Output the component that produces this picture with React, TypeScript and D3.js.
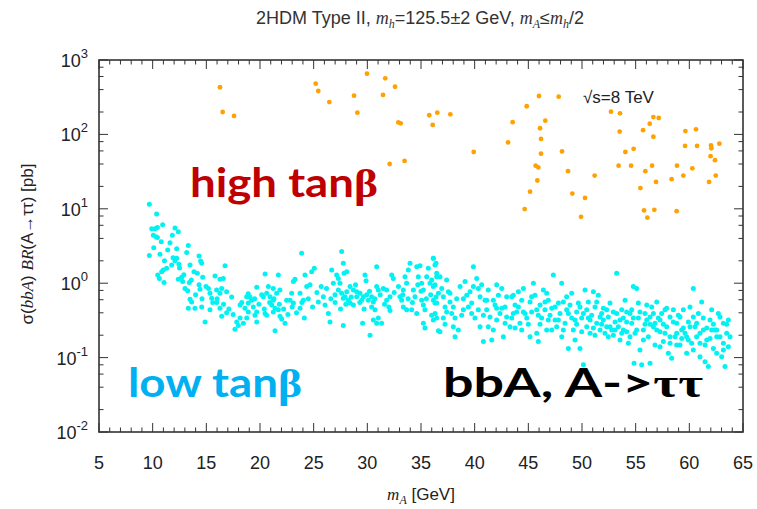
import React from "react";
import * as d3 from "d3";

// ---------- data ----------
const xTicks = [5, 10, 15, 20, 25, 30, 35, 40, 45, 50, 55, 60, 65];
const yExponents = [-2, -1, 0, 1, 2, 3];

// high tan(beta) points: [mA (GeV), sigma*BR (pb)]
const highTanBetaPoints: [number, number][] = [
  [16.27, 430], [16.52, 200], [17.58, 177], [25.19, 480], [25.43, 383], [26.46, 272],
  [28.76, 331], [29.07, 196], [29.97, 655], [31.67, 568], [32.58, 437], [31.46, 339],
  [32.89, 145], [33.11, 141], [35.77, 181], [36.52, 196], [36.09, 134], [37.73, 186],
  [39.91, 58], [32.08, 40], [33.47, 44],
  [43.11, 78], [43.54, 146], [44.85, 239], [45.99, 328], [47.83, 321], [46.58, 153],
  [46.09, 121], [46.18, 87], [46.18, 55], [48.14, 59], [45.68, 38], [45.93, 36],
  [45.84, 24], [45.16, 17], [44.66, 9.9], [48.7, 32], [49.1, 16], [49.91, 7.8],
  [50.28, 14], [51.18, 28], [52.7, 202], [53.54, 192], [53.51, 109], [54.04, 58],
  [54.81, 64], [53.41, 38], [54.57, 38], [55.69, 114], [56.31, 139], [56.65, 171],
  [57.15, 166], [56.65, 93], [55.9, 32], [56.53, 38], [56.9, 23], [55.44, 19],
  [55.78, 9.5], [56.09, 7.6], [56.74, 9.7], [58.82, 9.3], [58.35, 25], [58.85, 38],
  [59.44, 28], [59.6, 70], [59.63, 111], [60.62, 117], [60.72, 70], [60.28, 35],
  [62.02, 71], [62.05, 65], [62.8, 75], [61.98, 51], [62.39, 45], [62.46, 28], [61.84, 23],
];

// low tan(beta) points: [mA (GeV), sigma*BR (pb)]
const lowTanBetaPoints: [number, number][] = [
  [9.69, 11.5], [10.37, 8.5], [9.91, 5.4], [10.22, 5.4], [10.44, 5.6], [10.06, 4.4],
  [10.31, 4.2], [10.93, 6.1], [10.44, 4.1], [12.08, 5.5], [12.39, 4.9], [11.83, 4.4],
  [11.62, 3.5], [13.32, 3.2], [12.24, 2.9], [13.17, 2.58], [9.69, 2.35], [10.68, 2.45],
  [12.24, 2.16], [12.08, 2.0], [12.45, 1.8], [11.77, 1.76], [10.99, 1.51], [11.3, 1.59],
  [10.84, 1.43], [10.47, 1.29], [10.62, 1.16], [11.06, 1.02], [14.32, 2.32], [14.47, 1.99],
  [14.57, 1.85], [13.48, 1.76], [13.85, 1.43], [14.16, 1.36], [14.66, 1.2], [12.7, 1.2],
  [12.39, 1.13], [12.79, 1.05], [13.42, 1.02], [13.01, 0.85], [13.26, 0.79], [13.48, 0.61],
  [13.63, 0.56], [13.32, 0.46], [13.94, 0.46], [14.57, 0.48], [14.32, 0.95], [14.41, 0.83],
  [14.97, 0.9], [15.34, 0.73], [15.81, 1.25], [16.27, 1.13], [15.5, 0.63], [15.96, 0.81],
  [16.74, 1.71], [16.58, 1.16], [16.43, 0.85], [16.27, 0.73], [16.89, 0.77], [17.36, 0.65],
  [15.96, 0.55], [15.34, 0.44], [16.27, 0.46], [16.43, 0.36], [16.89, 0.4], [14.88, 0.3],
  [17.67, 0.24], [17.98, 0.27], [18.14, 0.34], [17.83, 0.3], [18.45, 0.29], [18.76, 0.34],
  [18.91, 0.41], [18.6, 0.46], [18.14, 0.51], [19.07, 0.65], [19.22, 0.59], [18.76, 0.66],
  [18.91, 0.54], [19.38, 0.48], [19.69, 0.41], [19.53, 0.37], [19.69, 0.3], [20.47, 1.33],
  [19.69, 0.88], [20.16, 0.7], [20.31, 0.66], [20.62, 0.73], [20.93, 0.66], [21.24, 0.59],
  [20.78, 0.9], [21.24, 0.85], [21.71, 1.29], [21.86, 0.81], [21.55, 0.73], [21.09, 0.51],
  [21.4, 0.46], [21.71, 0.44], [21.24, 0.41], [20.62, 0.37], [20.47, 0.39], [21.86, 0.36],
  [22.02, 0.33], [22.48, 0.59], [22.33, 0.29], [21.4, 0.23], [23.11, 1.05], [23.26, 1.13],
  [22.95, 0.73], [22.8, 0.59], [23.11, 0.54], [23.73, 0.73], [24.04, 0.59], [24.19, 1.29],
  [23.88, 2.52], [24.35, 0.9], [24.66, 0.95], [24.81, 1.43], [25.06, 1.59], [23.73, 0.46],
  [24.13, 0.34], [25.43, 0.56], [25.9, 0.66], [26.06, 0.51], [26.37, 0.39], [26.52, 0.3],
  [26.68, 1.51], [26.83, 1.0], [27.14, 1.29], [27.3, 1.16], [26.99, 0.7], [27.3, 0.81],
  [27.45, 1.0], [27.61, 2.66], [27.76, 1.85], [27.83, 1.36], [28.08, 1.43], [27.61, 0.73],
  [27.76, 0.63], [27.92, 0.66], [28.08, 0.77], [28.39, 0.9], [28.7, 0.81], [29.01, 0.77],
  [29.32, 0.73], [28.23, 0.59], [28.39, 0.54], [28.7, 0.51], [29.01, 0.66], [29.47, 0.59],
  [29.63, 0.66], [29.94, 0.7], [30.09, 0.59], [30.4, 0.66], [30.56, 0.56], [30.87, 0.9],
  [31.02, 0.81], [30.87, 1.67], [29.78, 1.29], [29.88, 1.08], [30.4, 0.48], [30.71, 0.44],
  [31.02, 0.34], [30.56, 0.32], [30.87, 0.29], [31.33, 0.29], [30.25, 0.2], [27.76, 0.27],
  [29.56, 0.29], [31.49, 0.85], [31.8, 0.81], [32.11, 0.66], [31.8, 0.59], [32.27, 1.29],
  [32.42, 1.16], [32.11, 0.43], [33.04, 0.66], [33.2, 0.59], [33.35, 0.81], [33.51, 1.22],
  [33.66, 1.0], [33.98, 1.85], [33.82, 1.51], [34.29, 0.81], [34.44, 0.66], [34.6, 1.67],
  [34.75, 1.22], [34.91, 1.71], [35.06, 1.0], [35.22, 0.81], [35.53, 1.22], [35.68, 1.59],
  [35.84, 1.0], [36.15, 2.16], [36.3, 1.76], [36.46, 1.22], [36.15, 0.9], [33.35, 0.48],
  [33.66, 0.44], [34.13, 0.44], [34.6, 0.39], [35.06, 0.59], [35.22, 0.51], [35.37, 0.44],
  [35.22, 0.29], [35.37, 0.25], [35.99, 0.37], [36.3, 0.54], [36.46, 0.34], [36.62, 0.23],
  [16.0, 0.62], [16.6, 0.52], [17.1, 0.45], [17.5, 0.38], [18.3, 0.55], [18.9, 0.72],
  [19.5, 0.62], [19.9, 0.52], [20.4, 0.45], [20.9, 0.55], [21.3, 0.62], [21.8, 0.52],
  [22.2, 0.45], [22.6, 0.38], [23.0, 0.48], [23.4, 0.4], [23.9, 0.55], [24.5, 0.62],
  [24.9, 0.48], [25.3, 0.75], [25.7, 0.9], [26.2, 0.85], [26.6, 0.62], [27.0, 0.55],
  [27.5, 0.45], [28.0, 0.52], [28.5, 0.65], [28.9, 0.95], [29.3, 0.55], [29.7, 0.45],
  [30.2, 0.78], [30.7, 0.62], [31.2, 0.7], [31.6, 0.52], [32.0, 0.48], [32.5, 0.75],
  [32.9, 0.9], [33.3, 0.7], [33.8, 0.62], [34.2, 0.55], [34.7, 0.95], [35.0, 0.78],
  [35.5, 0.62], [35.9, 0.7], [36.4, 0.65], [14.0, 0.7], [14.6, 0.62], [15.2, 0.85],
  [15.6, 0.55], [13.6, 1.1], [12.9, 1.3], [12.5, 1.6], [11.9, 2.2], [11.4, 2.8],
  [10.8, 3.6], [10.1, 3.0], [11.1, 2.0],
  // mA > 36
  [36.15, 2.16], [36.4, 1.85], [36.0, 1.1], [36.77, 1.22], [36.31, 0.95], [36.62, 0.73],
  [36.15, 0.59], [37.08, 0.66], [37.24, 0.48], [36.31, 0.39], [36.15, 0.32], [37.08, 0.34],
  [36.77, 0.223], [37.39, 1.1], [37.55, 0.77], [37.7, 0.56], [37.86, 0.39], [38.17, 0.34],
  [38.17, 0.191], [38.48, 0.235], [38.64, 0.9], [38.95, 0.44], [39.1, 1.05], [39.26, 0.69],
  [39.57, 0.77], [39.72, 0.54], [39.88, 1.67], [40.03, 0.34], [40.19, 1.16], [40.34, 0.85],
  [40.5, 0.66], [40.65, 0.95], [40.81, 0.164], [40.96, 0.59], [41.12, 0.44], [41.27, 0.81],
  [41.43, 0.35], [41.59, 0.172], [41.74, 0.235], [41.9, 0.51], [42.05, 0.95], [42.21, 0.69],
  [42.36, 0.39], [42.52, 0.85], [42.67, 0.191], [42.83, 0.48], [42.98, 0.35], [43.29, 0.26],
  [43.45, 0.66], [43.6, 0.69], [43.76, 0.51], [43.91, 0.41], [44.07, 0.77], [44.22, 0.29],
  [44.38, 0.59], [44.54, 0.85], [44.69, 0.39], [44.85, 0.34], [45.16, 0.56], [45.31, 0.41],
  [45.47, 1.0], [45.62, 0.69], [45.78, 0.212], [45.93, 0.164], [46.09, 0.51], [46.24, 0.34],
  [46.4, 0.81], [46.55, 0.44], [46.71, 0.73], [46.86, 0.59], [47.02, 0.37], [47.18, 0.235],
  [47.33, 1.29], [47.49, 0.48], [47.64, 0.26], [47.8, 0.54], [47.95, 0.39], [48.11, 1.0],
  [48.26, 0.56], [48.42, 0.29], [48.57, 0.44], [48.73, 0.133], [48.88, 0.51], [49.04, 0.34],
  [49.19, 0.235], [49.35, 0.172], [49.5, 0.41], [49.66, 0.54], [49.81, 0.133], [49.97, 0.34],
  [50.13, 0.08], [50.28, 0.81], [50.44, 0.26], [50.59, 0.56], [50.75, 0.212], [50.9, 0.37],
  [51.06, 0.77], [51.21, 0.48], [51.37, 0.29], [51.52, 0.69], [51.68, 0.235], [51.83, 0.39],
  [51.99, 0.32], [52.14, 0.212], [52.3, 0.44], [52.45, 0.35], [52.61, 0.26], [52.77, 0.235],
  [52.92, 0.41], [53.08, 0.3], [53.23, 1.36], [53.39, 0.26], [53.54, 0.172], [53.7, 0.44],
  [53.85, 0.34], [54.01, 0.59], [54.16, 0.223], [54.32, 0.156], [54.47, 0.39], [54.63, 0.29],
  [54.78, 0.9], [54.85, 0.084], [54.94, 0.212], [55.09, 0.85], [55.25, 0.54], [55.4, 0.127],
  [55.56, 0.08], [55.72, 0.235], [55.87, 0.39], [56.03, 0.32], [56.18, 0.191], [56.34, 0.084],
  [56.49, 0.48], [56.65, 0.26], [56.8, 0.148], [56.96, 0.56], [57.11, 0.34], [57.27, 0.223],
  [57.42, 0.39], [57.58, 0.164], [57.73, 0.44], [57.89, 0.26], [58.04, 0.114], [58.2, 0.35],
  [58.35, 0.098], [58.51, 0.44], [58.67, 0.191], [58.82, 0.29], [58.98, 0.37], [59.13, 0.148],
  [59.29, 0.235], [59.44, 0.44], [59.6, 0.212], [59.75, 0.114], [59.91, 0.3], [60.06, 0.48],
  [60.22, 0.156], [60.37, 0.85], [60.53, 0.26], [60.68, 0.191], [60.84, 0.39], [60.99, 0.103],
  [61.15, 0.56], [61.3, 0.235], [61.46, 0.088], [61.62, 0.172], [61.77, 0.076], [61.93, 0.32],
  [62.08, 0.44], [62.24, 0.133], [62.39, 0.235], [62.55, 0.114], [62.7, 0.39], [62.86, 0.191],
  [63.01, 0.103], [63.17, 0.29], [63.32, 0.076], [63.48, 0.212], [63.64, 0.32], [63.79, 0.191],
  [36.46, 1.36], [36.93, 0.85], [37.39, 0.41], [37.7, 0.73], [38.01, 0.48], [38.32, 0.62],
  [38.79, 0.37], [39.41, 0.48], [39.88, 0.9], [40.34, 0.44], [40.81, 0.37], [41.27, 0.26],
  [41.74, 0.59], [42.05, 0.32], [42.52, 0.46], [42.98, 0.66], [43.45, 0.34], [43.76, 0.25],
  [44.07, 0.48], [44.54, 0.41], [45.0, 0.28], [45.31, 0.66], [45.78, 0.44], [46.09, 0.28],
  [46.55, 0.56], [46.86, 0.32], [47.18, 0.46], [47.8, 0.32], [48.26, 0.235], [48.57, 0.66],
  [49.04, 0.73], [49.5, 0.28], [49.81, 0.48], [50.13, 0.39], [50.44, 0.44], [50.75, 0.32],
  [51.06, 0.25], [51.37, 0.56], [51.68, 0.35], [51.99, 0.46], [52.3, 0.26], [52.61, 0.54],
  [52.92, 0.2], [53.23, 0.39], [53.54, 0.32], [53.85, 0.235], [54.16, 0.41], [54.47, 0.191],
  [54.78, 0.34], [55.09, 0.235], [55.4, 0.41], [55.72, 0.172], [56.03, 0.51], [56.34, 0.28],
  [56.65, 0.39], [56.96, 0.235], [57.27, 0.32], [57.58, 0.28], [57.89, 0.46], [58.2, 0.191],
  [58.51, 0.3], [58.82, 0.148], [59.13, 0.35], [59.44, 0.25], [59.75, 0.191], [60.06, 0.26],
  [60.37, 0.35], [60.68, 0.29], [60.99, 0.212], [61.3, 0.34], [61.62, 0.25], [61.93, 0.18],
  [62.24, 0.28], [62.55, 0.235], [62.86, 0.35], [63.17, 0.156], [63.48, 0.28], [63.64, 0.14],
  [63.17, 0.127], [62.55, 0.191], [62.08, 0.235], [61.46, 0.148], [60.99, 0.156], [60.37, 0.127],
  [59.91, 0.172], [59.29, 0.18], [58.82, 0.212], [58.2, 0.156], [57.73, 0.212], [57.27, 0.14],
  [56.8, 0.29], [56.34, 0.35], [55.87, 0.28], [55.25, 0.34], [54.63, 0.44], [54.16, 0.3],
  [53.7, 0.212], [53.08, 0.235], [52.45, 0.191], [51.83, 0.28], [51.21, 0.2], [50.59, 0.34],
  [49.97, 0.223], [49.35, 0.32], [48.73, 0.39], [48.11, 0.191], [47.49, 0.32], [46.71, 0.235],
  [45.93, 0.37], [45.16, 0.191], [44.38, 0.235], [43.6, 0.39], [42.83, 0.29], [42.05, 0.46],
  [41.12, 0.59], [40.5, 0.26], [39.72, 0.39], [38.95, 0.62], [38.01, 0.26], [37.24, 0.28],
  [36.46, 0.54],
];

// ---------- layout ----------
const W = 757;
const H = 509;
const M = { left: 99, right: 743, top: 60, bottom: 432 };
const FRAME = "#333";
const SANS = "'Liberation Sans', Arial, Helvetica, sans-serif";
const SERIF = "'Liberation Serif', serif";
const BOLD = "Lato, 'Open Sans', sans-serif";

export default function App() {
  const x = d3.scaleLinear().domain([5, 65]).range([M.left, M.right]);
  const y = d3.scaleLog().domain([1e-2, 1e3]).range([M.bottom, M.top]);

  const xMinor = d3.range(5, 66, 1).filter((v) => v % 5 !== 0);
  const yMinor: number[] = [];
  for (let e = -2; e < 3; e++) for (const m of [2, 4, 6, 8]) yMinor.push(m * Math.pow(10, e));

  const MAJ = 9;
  const MIN = 4.5;

  return (
    <svg
      width={W}
      height={H}
      style={{ position: "absolute", left: 0, top: 0, background: "#fff" }}
      fontFamily={SANS}
    >
      <rect x={0} y={0} width={W} height={H} fill="#fff" />
      {/* title */}
      <text x={420} y={24} textAnchor="middle" fontSize={18} fill="#333">
        2HDM Type II,{" "}
        <tspan fontStyle="italic" fontFamily={SERIF}>m</tspan>
        <tspan fontStyle="italic" fontFamily={SERIF} fontSize={12} dy={4}>h</tspan>
        <tspan dy={-4}>=125.5±2 GeV, </tspan>
        <tspan fontStyle="italic" fontFamily={SERIF}>m</tspan>
        <tspan fontStyle="italic" fontFamily={SERIF} fontSize={12} dy={4}>A</tspan>
        <tspan dy={-4}>≤</tspan>
        <tspan fontStyle="italic" fontFamily={SERIF}>m</tspan>
        <tspan fontStyle="italic" fontFamily={SERIF} fontSize={12} dy={4}>h</tspan>
        <tspan dy={-4}>/2</tspan>
      </text>

      {/* points */}
      <g>
        {lowTanBetaPoints.map(([m, s], i) => (
          <circle key={"c" + i} cx={x(m)} cy={y(s)} r={2.5} fill="#00f2f2" />
        ))}
        {highTanBetaPoints.map(([m, s], i) => (
          <circle key={"o" + i} cx={x(m)} cy={y(s)} r={2.4} fill="#ffa200" />
        ))}
      </g>

      {/* ticks */}
      <g stroke={FRAME} strokeWidth={1}>
        {xTicks.map((t) => (
          <g key={"xt" + t}>
            <line x1={x(t)} x2={x(t)} y1={M.bottom} y2={M.bottom - MAJ} />
            <line x1={x(t)} x2={x(t)} y1={M.top} y2={M.top + MAJ} />
          </g>
        ))}
        {xMinor.map((t) => (
          <g key={"xm" + t}>
            <line x1={x(t)} x2={x(t)} y1={M.bottom} y2={M.bottom - MIN} />
            <line x1={x(t)} x2={x(t)} y1={M.top} y2={M.top + MIN} />
          </g>
        ))}
        {yExponents.map((e) => (
          <g key={"yt" + e}>
            <line x1={M.left} x2={M.left + MAJ} y1={y(Math.pow(10, e))} y2={y(Math.pow(10, e))} />
            <line x1={M.right} x2={M.right - MAJ} y1={y(Math.pow(10, e))} y2={y(Math.pow(10, e))} />
          </g>
        ))}
        {yMinor.map((v, i) => (
          <g key={"ym" + i}>
            <line x1={M.left} x2={M.left + MIN} y1={y(v)} y2={y(v)} />
            <line x1={M.right} x2={M.right - MIN} y1={y(v)} y2={y(v)} />
          </g>
        ))}
      </g>

      {/* frame */}
      <rect
        x={M.left}
        y={M.top}
        width={M.right - M.left}
        height={M.bottom - M.top}
        fill="none"
        stroke={FRAME}
        strokeWidth={1.6}
      />

      {/* x tick labels */}
      {xTicks.map((t) => (
        <text key={"xl" + t} x={x(t)} y={469} textAnchor="middle" fontSize={18} fill="#222">
          {t}
        </text>
      ))}
      {/* y tick labels */}
      {yExponents.map((e) => (
        <text key={"yl" + e} x={88} y={y(Math.pow(10, e)) + 7} textAnchor="end" fontSize={18} fill="#222">
          10
          <tspan fontSize={13} dy={-9}>{e}</tspan>
        </text>
      ))}

      {/* axis titles */}
      <text x={421} y={500} textAnchor="middle" fontSize={17} fill="#222">
        <tspan fontStyle="italic" fontFamily={SERIF}>m</tspan>
        <tspan fontStyle="italic" fontFamily={SERIF} fontSize={12} dy={4}>A</tspan>
        <tspan dy={-4}> [GeV]</tspan>
      </text>
      <text transform={`translate(33, 244) rotate(-90)`} textAnchor="middle" fontSize={17} fill="#222">
        σ(
        <tspan fontStyle="italic" fontFamily={SERIF}>bbA</tspan>
        <tspan>) </tspan>
        <tspan fontStyle="italic" fontFamily={SERIF}>BR</tspan>
        <tspan>(A→ττ) [pb]</tspan>
      </text>

      {/* annotations */}
      <text x={583} y={103} fontSize={17} fill="#222">√s=8 TeV</text>
      <text x={190} y={197} fontSize={40} fontWeight="bold" fontFamily={BOLD} fill="#c00000"
        textLength={188} lengthAdjust="spacingAndGlyphs">
        high tan<tspan fontFamily={SERIF}>β</tspan>
      </text>
      <text x={128} y={397} fontSize={40} fontWeight="bold" fontFamily={BOLD} fill="#00b0f0"
        textLength={174} lengthAdjust="spacingAndGlyphs">
        low tan<tspan fontFamily={SERIF}>β</tspan>
      </text>
      <text x={443} y={397} fontSize={40} fontWeight="bold" fontFamily={BOLD} fill="#000"
        textLength={260} lengthAdjust="spacingAndGlyphs">
        bbA, A-&gt;<tspan fontFamily={SERIF}>ττ</tspan>
      </text>
    </svg>
  );
}
